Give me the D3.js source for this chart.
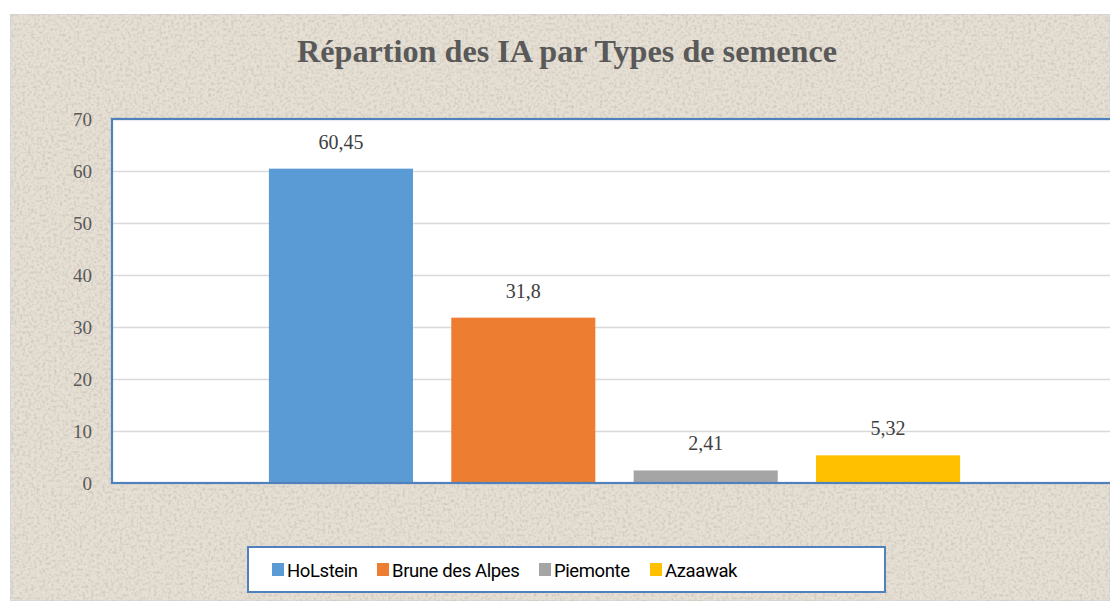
<!DOCTYPE html>
<html>
<head>
<meta charset="utf-8">
<script src="https://cdn.jsdelivr.net/npm/d3@7"></script>
<style>
  body { margin: 0; background: #fff; }
  svg { display: block; }
</style>
</head>
<body>
<div id="chart"></div>
<script>
var width = 1110;
var height = 601;

// data
var title = "Répartion des IA par Types de semence";
var series = ["HoLstein", "Brune des Alpes", "Piemonte", "Azaawak"];
var values = [60.45, 31.8, 2.41, 5.32];
var labels = ["60,45", "31,8", "2,41", "5,32"];
var colors = ["#5b9bd5", "#ed7d31", "#a5a5a5", "#ffc000"];
var yTicks = [0, 10, 20, 30, 40, 50, 60, 70];

var plot = { left: 112, top: 119, right: 1117, bottom: 483 };

var svg = d3.select("#chart").append("svg")
  .attr("width", width)
  .attr("height", height);

// paper texture
var defs = svg.append("defs");
var f = defs.append("filter").attr("id", "paper").attr("x", 0).attr("y", 0).attr("width", 1).attr("height", 1);
f.append("feTurbulence").attr("type", "fractalNoise").attr("baseFrequency", 0.35).attr("numOctaves", 3).attr("seed", 7).attr("result", "noise");
f.append("feColorMatrix").attr("in", "noise").attr("type", "matrix")
  .attr("values", "0 0 0 0 0.62  0 0 0 0 0.58  0 0 0 0 0.52  0 0 0 -2.6 1.45").attr("result", "spots");
f.append("feComposite").attr("in", "spots").attr("in2", "SourceGraphic").attr("operator", "in").attr("result", "clip");
f.append("feMerge").selectAll("feMergeNode").data(["SourceGraphic", "clip"]).enter()
  .append("feMergeNode").attr("in", function(d) { return d; });

svg.append("rect")
  .attr("x", 10).attr("y", 14)
  .attr("width", width - 10).attr("height", height - 14)
  .attr("fill", "#e6dfd3")
  .attr("stroke", "#d6d6d6")
  .attr("stroke-width", 1.5)
  .attr("filter", "url(#paper)");

svg.append("text")
  .attr("x", 567).attr("y", 62)
  .attr("text-anchor", "middle")
  .style("font-family", "'Liberation Serif', serif")
  .style("font-weight", "bold")
  .style("font-size", "32.2px")
  .attr("fill", "#595959")
  .text(title);

var y = d3.scaleLinear().domain([0, 70]).range([plot.bottom, plot.top]);

var x0 = d3.scaleBand().domain([""]).range([plot.left, plot.right]).paddingInner(0).paddingOuter(0.227);
var x1 = d3.scaleBand().domain(series).range([x0(""), x0("") + x0.bandwidth()]).paddingInner(0.21).paddingOuter(0);

svg.append("rect")
  .attr("x", plot.left).attr("y", plot.top)
  .attr("width", plot.right - plot.left).attr("height", plot.bottom - plot.top)
  .attr("fill", "#fff");

// grid
svg.append("g")
  .attr("transform", "translate(" + plot.left + ",0)")
  .call(d3.axisLeft(y).tickValues(yTicks).tickSize(-(plot.right - plot.left)).tickFormat(""))
  .call(function(g) {
    g.select(".domain").remove();
    g.selectAll(".tick line").attr("stroke", "#d9d9d9").attr("stroke-width", 1.6);
  });

// y labels
svg.append("g")
  .attr("transform", "translate(" + (plot.left - 20) + ",0)")
  .call(d3.axisLeft(y).tickValues(yTicks).tickSize(0).tickPadding(0))
  .call(function(g) {
    g.select(".domain").remove();
    g.selectAll("text")
      .style("font-family", "'Liberation Serif', serif")
      .style("font-size", "19px")
      .attr("fill", "#595959");
  });

svg.selectAll(".bar")
  .data(values)
  .enter().append("rect")
  .attr("class", "bar")
  .attr("x", function(d, i) { return x1(series[i]); })
  .attr("y", function(d) { return y(d); })
  .attr("width", x1.bandwidth())
  .attr("height", function(d) { return y(0) - y(d); })
  .attr("fill", function(d, i) { return colors[i]; });

svg.selectAll(".lbl")
  .data(values)
  .enter().append("text")
  .attr("class", "lbl")
  .attr("x", function(d, i) { return x1(series[i]) + x1.bandwidth() / 2; })
  .attr("y", function(d) { return y(d) - 20; })
  .attr("text-anchor", "middle")
  .style("font-family", "'Liberation Serif', serif")
  .style("font-size", "20px")
  .attr("fill", "#404040")
  .text(function(d, i) { return labels[i]; });

// plot border
svg.append("rect")
  .attr("x", plot.left).attr("y", plot.top)
  .attr("width", plot.right - plot.left).attr("height", plot.bottom - plot.top)
  .attr("fill", "none")
  .attr("stroke", "#4f81bd")
  .attr("stroke-width", 2.2);

// legend
var legend = svg.append("g");
legend.append("rect")
  .attr("x", 248).attr("y", 547)
  .attr("width", 637).attr("height", 45)
  .attr("fill", "#fff")
  .attr("stroke", "#4f81bd")
  .attr("stroke-width", 2);

var legX = [272, 377, 539, 650];
var item = legend.selectAll(".item")
  .data(series)
  .enter().append("g")
  .attr("class", "item")
  .attr("transform", function(d, i) { return "translate(" + legX[i] + ",570)"; });

item.append("rect")
  .attr("x", 0).attr("y", -7)
  .attr("width", 12).attr("height", 13)
  .attr("fill", function(d, i) { return colors[i]; });

item.append("text")
  .attr("x", 15).attr("y", 7)
  .style("font-family", "Roboto, sans-serif")
  .style("font-size", "18.5px")
  .style("letter-spacing", "-0.4px")
  .attr("fill", "#000")
  .text(function(d) { return d; });
</script>
</body>
</html>
